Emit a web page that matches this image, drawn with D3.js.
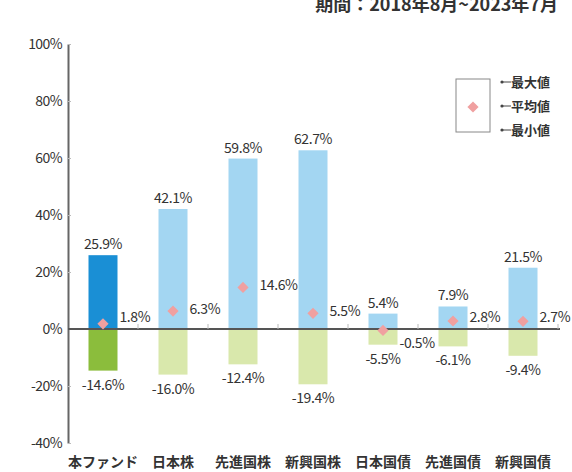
<!DOCTYPE html>
<html>
<head>
<meta charset="utf-8">
<script src="https://cdn.jsdelivr.net/npm/d3@7"></script>
<style>
  body { margin: 0; background: #fff; }
  text { font-family: "Noto Sans CJK JP", "Noto Sans", sans-serif; fill: #333; }
</style>
</head>
<body>
<svg id="chart" width="572" height="472"></svg>
<script>
// categories and values
const categories = ["本ファンド", "日本株", "先進国株", "新興国株", "日本国債", "先進国債", "新興国債"];
const maxValues = [25.9, 42.1, 59.8, 62.7, 5.4, 7.9, 21.5];
const avgValues = [1.8, 6.3, 14.6, 5.5, -0.5, 2.8, 2.7];
const minValues = [-14.6, -16.0, -12.4, -19.4, -5.5, -6.1, -9.4];
const yTicks = [100, 80, 60, 40, 20, 0, -20, -40];
const legendLabels = ["最大値", "平均値", "最小値"];
const periodLabel = "期間：2018年8月~2023年7月";

const svg = d3.select("#chart");

// category slots, 70px each
const x = d3.scaleBand().domain(categories).range([68, 558]).padding(0);
const y = d3.scaleLinear().domain([-40, 100]).range([443, 44]);
const barW = 29;
const y0 = y(0);

const rows = categories.map((c, i) => ({
    cat: c, max: maxValues[i], avg: avgValues[i], min: minValues[i], fund: i === 0
}));
const cx = d => x(d.cat) + x.bandwidth() / 2;
const fmt = v => v.toFixed(1) + "%";

// period text at the top (the source crops its upper half)
svg.append("text")
    .attr("x", 558).attr("y", 11)
    .attr("text-anchor", "end")
    .style("font-size", "18px").style("font-weight", "bold")
    .attr("fill", "#444")
    .text(periodLabel);

// y axis, short ticks pointing inward
const yAxis = svg.append("g")
    .attr("transform", "translate(68,0)")
    .call(d3.axisLeft(y).tickValues(yTicks).tickSizeInner(-3).tickSizeOuter(0)
        .tickPadding(6).tickFormat(d => d + "%"));
yAxis.select(".domain").attr("stroke", "#666").attr("stroke-width", 2);
yAxis.selectAll(".tick line").attr("stroke", "#bbb");
yAxis.selectAll(".tick text")
    .style("font-size", "14px").style("letter-spacing", "-0.6px").attr("fill", "#333");

// bars: positive (max) and negative (min)
svg.append("g").selectAll("rect.max").data(rows).join("rect")
    .attr("class", "max")
    .attr("x", d => cx(d) - barW / 2).attr("width", barW)
    .attr("y", d => y(d.max)).attr("height", d => y0 - y(d.max))
    .attr("fill", d => d.fund ? "#1a8fd5" : "#a3d6f2");

svg.append("g").selectAll("rect.min").data(rows).join("rect")
    .attr("class", "min")
    .attr("x", d => cx(d) - barW / 2).attr("width", barW)
    .attr("y", y0).attr("height", d => y(d.min) - y0)
    .attr("fill", d => d.fund ? "#8bbd3c" : "#d9e8ac");

// zero line with small ticks at the category boundaries
svg.append("line")
    .attr("x1", 68).attr("x2", 560).attr("y1", y0).attr("y2", y0)
    .attr("stroke", "#555").attr("stroke-width", 2);
svg.append("g").selectAll("line").data(rows).join("line")
    .attr("x1", d => x(d.cat) + x.bandwidth()).attr("x2", d => x(d.cat) + x.bandwidth())
    .attr("y1", y0 - 5).attr("y2", y0)
    .attr("stroke", "#bbb");

// average diamonds
const diamond = d3.symbol().type(d3.symbolDiamond2).size(80);
svg.append("g").selectAll("path").data(rows).join("path")
    .attr("d", diamond)
    .attr("transform", d => `translate(${cx(d)},${y(d.avg)})`)
    .attr("fill", "#f0a0a0");

// value labels
const lab = svg.append("g").style("font-size", "14px").style("letter-spacing", "-0.4px");
lab.selectAll("text.maxl").data(rows).join("text")
    .attr("x", cx).attr("y", d => y(d.max) - 6)
    .attr("text-anchor", "middle")
    .text(d => fmt(d.max));
lab.selectAll("text.minl").data(rows).join("text")
    .attr("x", cx).attr("y", d => y(d.min) + 19)
    .attr("text-anchor", "middle")
    .text(d => fmt(d.min));
lab.selectAll("text.avgl").data(rows).join("text")
    .attr("x", d => cx(d) + barW / 2 + 2)
    .attr("y", d => d.avg >= 0 ? Math.min(y(d.avg) - 2, y0 - 12) : y0 + 14)
    .attr("dy", "0.35em")
    .text(d => fmt(d.avg));

// category labels
svg.append("g").selectAll("text").data(rows).join("text")
    .attr("x", cx).attr("y", 467)
    .attr("text-anchor", "middle")
    .style("font-size", "14px").style("font-weight", "bold")
    .text(d => d.cat);

// legend
const lg = svg.append("g");
lg.append("rect")
    .attr("x", 456).attr("y", 79).attr("width", 34).attr("height", 53)
    .attr("fill", "#fff").attr("stroke", "#888");
lg.append("path")
    .attr("d", diamond)
    .attr("transform", "translate(473,107)")
    .attr("fill", "#f0a0a0");
const legendY = [82, 106, 130];
legendLabels.forEach((t, i) => {
    lg.append("circle").attr("cx", 502).attr("cy", legendY[i]).attr("r", 1.6).attr("fill", "#444");
    lg.append("line").attr("x1", 502).attr("x2", 511).attr("y1", legendY[i]).attr("y2", legendY[i])
        .attr("stroke", "#444").attr("stroke-width", 1);
    lg.append("text").attr("x", 511).attr("y", legendY[i]).attr("dy", "0.35em")
        .style("font-size", "13px").style("font-weight", "bold")
        .text(t);
});
</script>
</body>
</html>
